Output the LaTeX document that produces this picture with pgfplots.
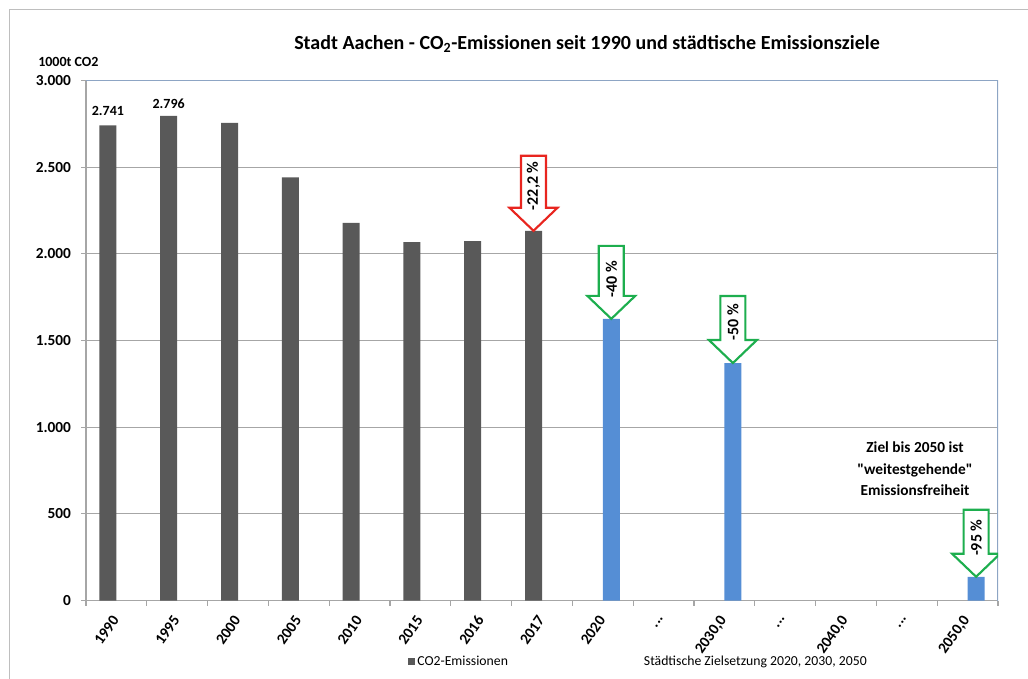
\documentclass[border=0pt]{standalone}
\usepackage{fontspec}
\setmainfont{Carlito}
\newfontfamily\qfont{Carlito}
\usepackage{pgfplots}
\pgfplotsset{compat=1.18}
\definecolor{bargray}{HTML}{595959}
\definecolor{barblue}{HTML}{558ED5}
\definecolor{gridgray}{HTML}{A6A6A6}
\definecolor{bordblue}{RGB}{141,165,196}
\definecolor{framegray}{RGB}{190,190,190}
\definecolor{arrred}{HTML}{E8251F}
\definecolor{arrgreen}{HTML}{1DAE4E}
\newcommand{\lbl}{\bfseries\fontsize{10.5bp}{12bp}\selectfont}
\newcommand{\tlbl}{\bfseries\fontsize{11.5bp}{13bp}\selectfont}
\newcommand{\ddd}{...}
\newcommand{\sq}{{\qfont\bfseries"}}
% #1 x, #2 y, #3 xshift, #4 shaft length, #5 colour, #6 text, #7 text yshift
\newcommand{\blockarrow}[7]{%
  \draw[#5, line width=1.6bp, fill=white, line join=miter]
    ([xshift=#3bp]axis cs:#1,#2) -- ++(-18bp,17.25bp) -- ++(8.625bp,0bp) -- ++(0bp,#4bp)
    -- ++(18.75bp,0bp) -- ++(0bp,-#4bp) -- ++(8.625bp,0bp) -- cycle;
  \node[rotate=90, font=\bfseries\fontsize{12bp}{13bp}\selectfont, inner sep=0pt, text=black] at ([xshift=#3bp,yshift=#7bp]axis cs:#1,#2) {#6};
}
\begin{document}
\begin{tikzpicture}
\path[use as bounding box] (0,0) rectangle (771bp,509.25bp);
\draw[framegray, line width=1.1bp] (7.1bp,0bp) -- (7.1bp,502.1bp) -- (771bp,502.1bp);
\node[font=\bfseries\fontsize{15bp}{17bp}\selectfont] at (440.25bp,476.25bp)
  {Stadt Aachen - CO\textsubscript{2}-Emissionen seit 1990 und städtische Emissionsziele};
\node[font=\lbl, anchor=west, inner sep=0pt] at (28.5bp,462.75bp) {1000t CO2};
\node[font=\tlbl, align=center, inner sep=0pt] at (686.25bp,157.5bp)
  {Ziel bis 2050 ist\\[3bp]\sq weitestgehende\sq\\[3bp]Emissionsfreiheit};
\begin{axis}[
  at={(64.5bp,58.875bp)}, anchor=south west,
  scale only axis, width=684bp, height=390bp,
  xmin=-0.5, xmax=14.5, ymin=0, ymax=3000,
  enlargelimits=false,
  axis lines=left, axis line style={draw=gridgray, line width=0.9bp, -},
  ybar, bar width=12.75bp,
  xtick={0,1,2,3,4,5,6,7,8,9,10,11,12,13,14},
  xticklabels={1990,1995,2000,2005,2010,2015,2016,2017,2020,{\ddd},{2030,0},{\ddd},{2040,0},{\ddd},{2050,0}},
  major x tick style={draw=none},
  minor xtick={-0.5,0.5,...,14.5},
  minor tick length=3.75bp, major tick length=3.75bp,
  tick align=outside,
  every tick/.style={draw=gridgray, line width=0.9bp},
  ytick={0,500,...,3000},
  ymajorgrids, grid style={draw=gridgray, line width=0.9bp},
  /pgf/number format/assume math mode=true,
  /pgf/number format/1000 sep={.},
  yticklabel style={font=\tlbl, xshift=-4bp},
  xticklabel style={font=\tlbl, inner sep=1pt, yshift=-8bp, rotate=55, anchor=east},
  legend style={at={(0.348,-0.118)}, anchor=west, draw=none, fill=none,
    font=\fontsize{10.3bp}{12bp}\selectfont, legend columns=2,
    /tikz/every even column/.append style={column sep=98bp}},
  legend cell align=left,
]
\addplot[fill=bargray, draw=none, bar shift=-6.375bp,
  legend image code/.code={\fill[bargray] (0bp,-2.6bp) rectangle (5.25bp,2.6bp);}]
  coordinates {(0,2741) (1,2796) (2,2755) (3,2441) (4,2178) (5,2068) (6,2074) (7,2133)};
\addlegendentry{CO2-Emissionen}
\addplot[fill=barblue, draw=none, bar shift=6.375bp, legend image code/.code={}]
  coordinates {(8,1625) (10,1370) (14,137)};
\addlegendentry{Städtische Zielsetzung 2020, 2030, 2050}
\draw[bordblue, line width=1.1bp] (rel axis cs:0,1) -- (rel axis cs:1,1) -- (rel axis cs:1,0);
\node[font=\lbl, inner sep=0pt] at ([xshift=-6.375bp,yshift=10.5bp]axis cs:0,2741) {2.741};
\node[font=\lbl, inner sep=0pt] at ([xshift=-6.375bp,yshift=9.4bp]axis cs:1,2796) {2.796};
\blockarrow{7}{2133}{-6.375}{39}{arrred}{-22,2 \%}{33.75}
\blockarrow{8}{1625}{6.375}{37.5}{arrgreen}{-40 \%}{30}
\blockarrow{10}{1370}{6.375}{33}{arrgreen}{-50 \%}{30.75}
\blockarrow{14}{137}{6.375}{33}{arrgreen}{-95 \%}{29.25}
\end{axis}
\end{tikzpicture}
\end{document}
